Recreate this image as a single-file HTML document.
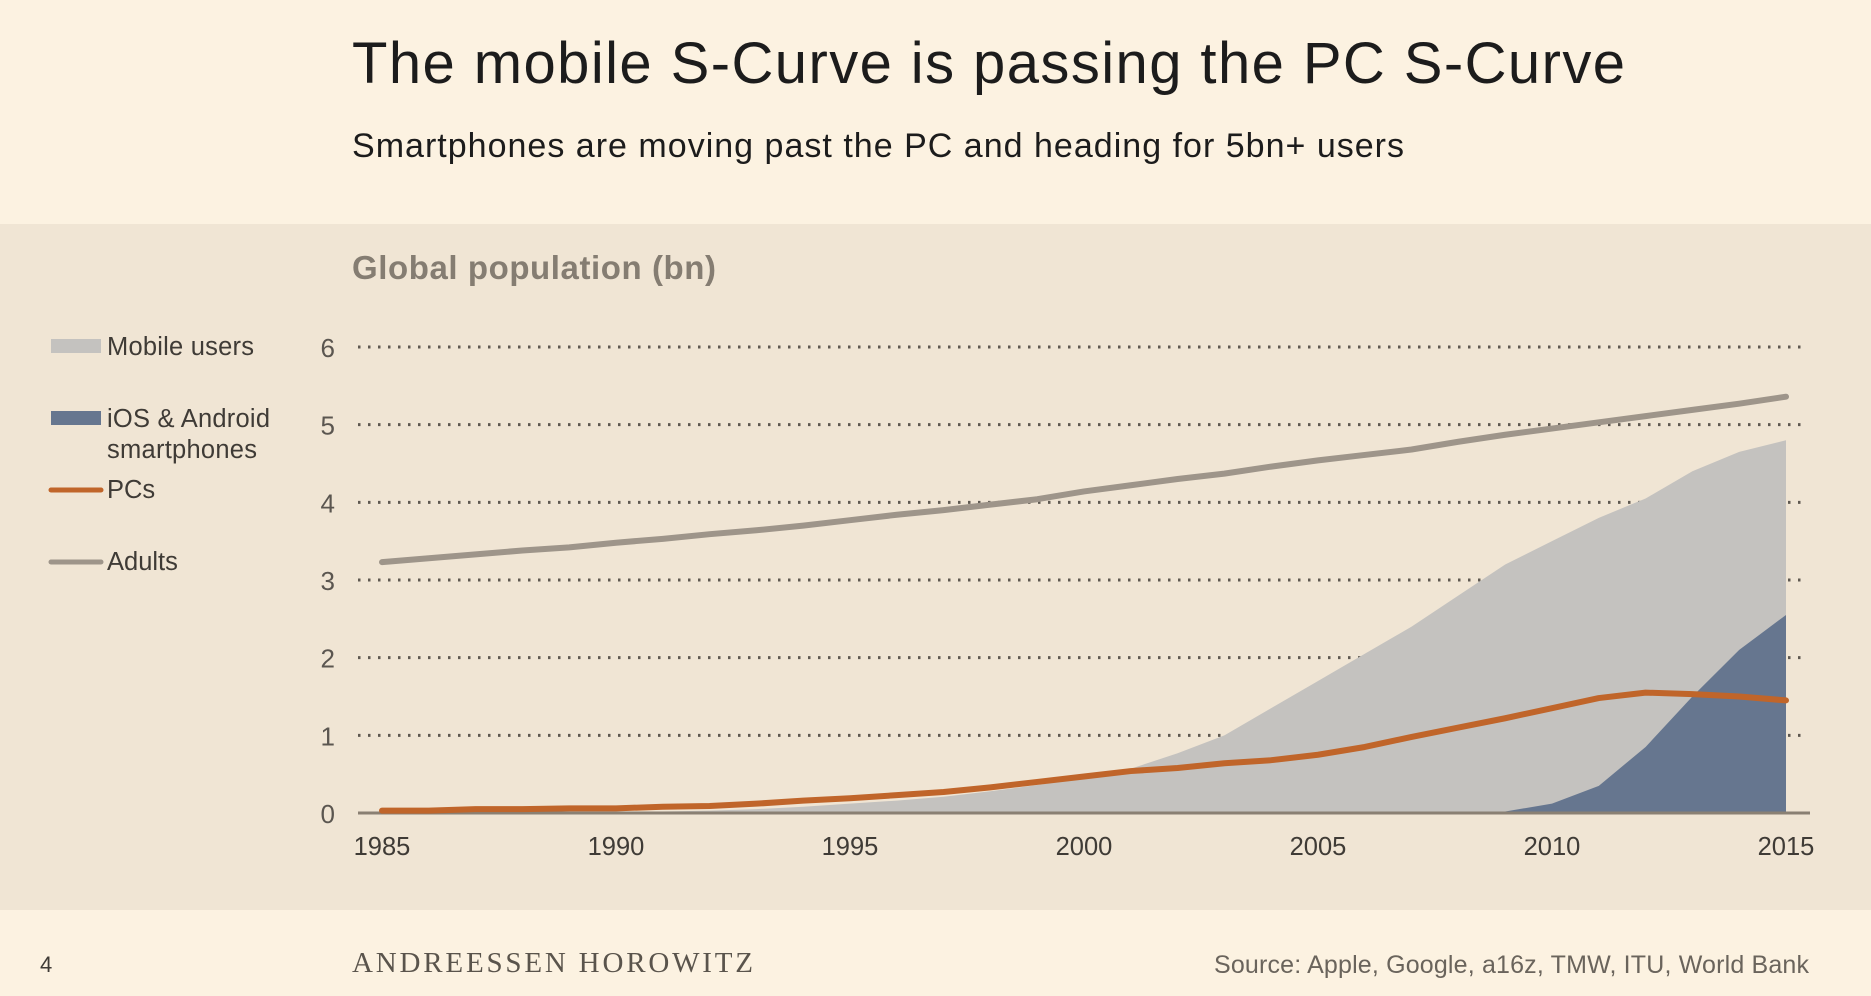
<!DOCTYPE html>
<html><head><meta charset="utf-8"><style>
body{margin:0;width:1871px;height:996px;overflow:hidden;background:#fcf2e1;font-family:"Liberation Sans",sans-serif;}
svg{display:block}
</style></head><body>
<svg id="c" width="1871" height="996">
<rect x="0" y="0" width="1871" height="996" fill="#fcf2e1"/>
<rect x="0" y="224" width="1871" height="686" fill="#f0e5d4"/>
<text x="352" y="83" font-size="58" fill="#1c1c1c" textLength="1273" lengthAdjust="spacing">The mobile S-Curve is passing the PC S-Curve</text>
<text x="352" y="157" font-size="34" fill="#1c1c1c" textLength="1052" lengthAdjust="spacing">Smartphones are moving past the PC and heading for 5bn+ users</text>
<text x="352" y="279" font-size="33" font-weight="bold" fill="#857d72" textLength="364" lengthAdjust="spacing">Global population (bn)</text>
<g>
<rect x="51" y="339" width="50" height="14" fill="#c4c2bf"/>
<text x="107" y="355" font-size="25.5" fill="#3f3b36" textLength="147" lengthAdjust="spacing">Mobile users</text>
<rect x="51" y="411" width="50" height="14" fill="#66768f"/>
<text x="107" y="427" font-size="25.5" fill="#3f3b36" textLength="163" lengthAdjust="spacing">iOS &amp; Android</text>
<text x="107" y="458" font-size="25.5" fill="#3f3b36" textLength="150" lengthAdjust="spacing">smartphones</text>
<line x1="51" y1="490" x2="101" y2="490" stroke="#c0652a" stroke-width="5" stroke-linecap="round"/>
<text x="107" y="498" font-size="25.5" fill="#3f3b36">PCs</text>
<line x1="51" y1="562" x2="101" y2="562" stroke="#9e958a" stroke-width="5" stroke-linecap="round"/>
<text x="107" y="570" font-size="25.5" fill="#3f3b36">Adults</text>
</g>
<g id="plot"></g>
<text x="40" y="972" font-size="22" fill="#3f3b36">4</text>
<text x="352" y="972" font-size="29" font-family="Liberation Serif,serif" fill="#5a544c" textLength="401" lengthAdjust="spacing">ANDREESSEN HOROWITZ</text>
<text x="1809" y="973" font-size="25" text-anchor="end" fill="#6a645c" textLength="595" lengthAdjust="spacing">Source: Apple, Google, a16z, TMW, ITU, World Bank</text>
</svg>
<script>
const years=[1985,1986,1987,1988,1989,1990,1991,1992,1993,1994,1995,1996,1997,1998,1999,2000,2001,2002,2003,2004,2005,2006,2007,2008,2009,2010,2011,2012,2013,2014,2015];
const mobile=[0,0,0,0,0.005,0.01,0.02,0.03,0.05,0.08,0.12,0.16,0.21,0.28,0.36,0.45,0.57,0.77,1.0,1.35,1.7,2.05,2.4,2.8,3.2,3.5,3.8,4.05,4.4,4.65,4.8];
const smartphones=[0,0,0,0,0,0,0,0,0,0,0,0,0,0,0,0,0,0,0,0,0,0,0,0.01,0.02,0.12,0.35,0.85,1.5,2.1,2.55];
const pcs=[0.03,0.03,0.05,0.05,0.06,0.06,0.08,0.09,0.12,0.16,0.19,0.23,0.27,0.33,0.4,0.47,0.54,0.58,0.64,0.68,0.75,0.85,0.98,1.1,1.22,1.35,1.48,1.55,1.53,1.5,1.45];
const adults=[3.23,3.28,3.33,3.38,3.42,3.48,3.53,3.59,3.64,3.7,3.77,3.84,3.9,3.97,4.04,4.14,4.22,4.3,4.37,4.46,4.54,4.61,4.68,4.78,4.87,4.95,5.03,5.11,5.19,5.27,5.36];
const yTicks=[0,1,2,3,4,5,6];
const xTicks=[1985,1990,1995,2000,2005,2010,2015];
const NS="http://www.w3.org/2000/svg";
const X=v=>382+(v-1985)*(1786-382)/30;
const Y=v=>813-v*(813-347)/6;
const g=document.getElementById('plot');
function mk(t,a){const e=document.createElementNS(NS,t);for(const k in a)e.setAttribute(k,a[k]);g.appendChild(e);return e;}
yTicks.forEach(t=>{
 const l=mk('line',{x1:358,x2:1806,y1:Y(t),y2:Y(t),stroke:'#5e5850','stroke-width':3,'stroke-dasharray':'2.5 7.5'});
 
 
 const tx=mk('text',{x:335,y:Y(t)+10,'font-size':26,fill:'#5b5650','text-anchor':'end'});tx.textContent=t;
 
 
});
function area(arr,fill,name){
 let d='M'+X(years[0])+','+Y(0);
 years.forEach((yr,i)=>d+='L'+X(yr)+','+Y(arr[i]));
 d+='L'+X(years[years.length-1])+','+Y(0)+'Z';
 const p=mk('path',{d:d,fill:fill});
 
 
}
area(mobile,'#c4c2bf','mobile-users-area');
area(smartphones,'#66768f','smartphones-area');
function line(arr,col,name){
 const pts=years.map((yr,i)=>X(yr)+','+Y(arr[i])).join(' ');
 const p=mk('polyline',{points:pts,fill:'none',stroke:col,'stroke-width':6,'stroke-linecap':'round','stroke-linejoin':'round'});
 
 
}
const ax=mk('line',{x1:358,x2:1810,y1:813,y2:813,stroke:'#8a8073','stroke-width':3});


line(pcs,'#c0652a','pcs-line');
line(adults,'#9e958a','adults-line');
xTicks.forEach(t=>{
 const tx=mk('text',{x:X(t),y:855,'font-size':25.5,fill:'#3f3b36','text-anchor':'middle'});tx.textContent=t;
 
 
});
</script>
</body></html>
